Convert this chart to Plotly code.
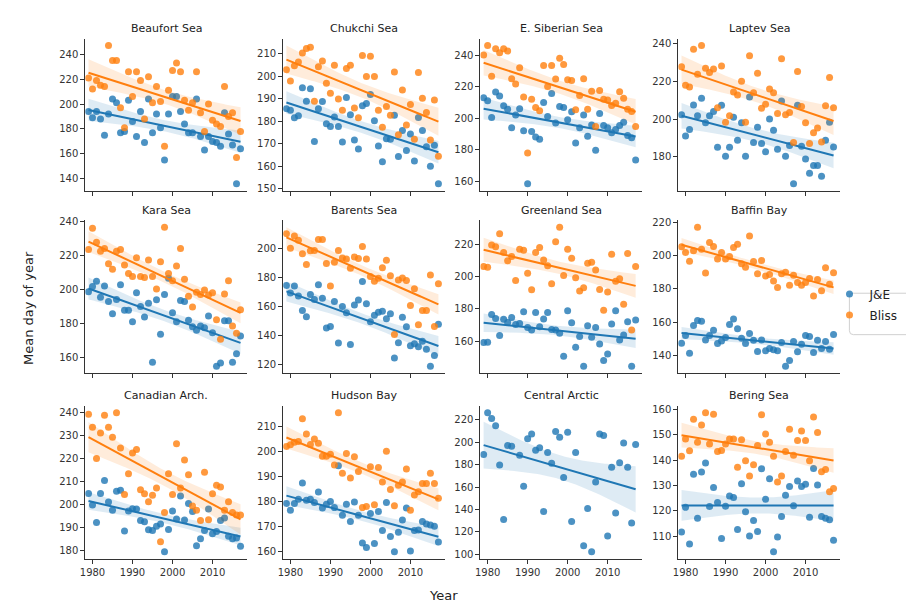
import numpy as np
import plotly.graph_objects as go

years = list(range(1979, 2018))

region_names = ["Beaufort Sea", "Chukchi Sea", "E. Siberian Sea", "Laptev Sea",
                "Kara Sea", "Barents Sea", "Greenland Sea", "Baffin Bay",
                "Canadian Arch.", "Hudson Bay", "Central Arctic", "Bering Sea"]

beaufort_je = [194,189,194,188,175,192,204,201,177,178,203,186,174,194,169,204,177,192,181,155,192,206,206,194,184,177,177,204,174,163,174,170,169,166,193,176,167,136,164]
beaufort_bliss = [221,212,219,215,214,247,235,235,197,181,226,206,226,219,188,222,201,214,202,166,211,227,233,226,203,195,201,226,193,178,200,187,184,182,214,190,193,157,178]
chukchi_je = [185.6,185,181.6,182.5,195,189,194.5,171,185.6,188.8,179,177.7,182,177.7,170.8,190.6,183,171.7,167.7,187,188,192,180.3,169,162,172.3,172,182.7,164.4,175.9,167,174.4,162.4,181.7,175.9,168.7,160,169.4,152.3]
chukchi_bliss = [203,198,204.7,206.4,210.4,212.4,212.9,189,204.3,206.8,197,192.5,205,190,185,203.5,205,186,181.6,209.3,200,209,200,185,177.4,186.6,182.7,202,174,194,178.4,187.5,172,201.7,190.3,184,171.7,189.5,164.5]
esiberian_je = [213,211,200.5,216.5,214,207.8,205.7,194,202,206,192,158.5,191.6,188,186.6,210,201,215.7,197,207.4,206.7,199,204,184.3,194,202,188.6,195.7,179.7,203,195.3,194,190.7,192.8,195.3,197.4,189,187.6,173.5]
esiberian_bliss = [240,246,226.5,244,241.5,244,242.5,225,221.7,232,213.4,178,212,206.7,204.7,233.3,220,233.3,224.8,238,234,224.4,223.8,205.3,214.4,225,205.7,217,194.7,217.5,212,211.5,208,209.4,216.7,212.6,205.7,204.2,194.7]
laptev_je = [202.3,191,194.4,207.5,201.7,211,198,201.7,204,185,207.3,180.3,185,201,188.7,198,180.3,211.7,187.5,195.7,187,182.6,200,194,184,209.6,180.3,186,165.7,207.3,185.6,178.8,171.3,175.3,175.3,169.6,188.7,198.3,185.2]
laptev_bliss = [227.8,218,217,237,223.8,239,227,224.7,226.6,206,228.2,198.3,201.7,214.4,212.7,220,198.3,233.6,214,224.3,205.7,207.8,216,214,203,232,202.3,203.5,187.5,225.2,206.6,198,187,192.7,195.3,187.8,207,222,206]
kara_je = [198.6,201.6,204.7,195.3,202,192.8,185.6,194,202.7,187.6,187.6,180.8,197.9,189.9,183.7,191.8,157,193.8,173.4,196.9,206.6,186.2,180.8,193.4,192.8,181.7,177.9,175.9,178.3,177.3,184.3,174.4,154.6,156.5,181.4,181.4,157,161.9,172.4]
kara_bliss = [223.5,236.1,227.8,222.5,224.1,215.1,211.8,222.5,223.5,214.4,209.3,207.6,218.6,207.6,207,217.3,207.6,200.2,216.3,236.7,209.3,205,213.8,224.1,206,195.9,189.5,198.3,196.9,199.6,196.7,197.9,182.1,170.5,197.3,205,178.4,174,188]
barents_je = [174.7,169.6,174.3,167.4,157.5,153.1,168.5,165.1,175.2,165.8,145.3,146.4,163.6,135,160.2,155.8,133.9,161.3,164.7,177.4,162,149.7,154.2,156.2,156.9,151.7,155.1,124.5,135.2,152.8,146.1,133,134.5,132.3,136.1,130.7,118.9,126.3,147.9]
barents_bliss = [210.5,200.4,208.9,206,196.6,189.3,198.7,198.9,206.5,206.5,189.9,174.3,190.8,198.9,193.7,193.1,186.6,194.4,193.3,201.6,193.1,181,177.7,179.7,187,192.2,181.5,140.8,178.5,179.9,178.1,160.9,172.5,147.5,157.5,157.5,181.9,146.4,175.9]
greenland_je = [159.2,159.4,176.5,174.1,163.5,173.5,171.6,174.7,170.4,171,178.2,168.4,166.9,177.8,169,173.7,177.8,167.3,166.9,164.9,150.6,178.8,171.4,156.3,162.9,144.5,169.6,162.4,168.4,158.2,148,152,170.6,178.8,160.8,163.9,172,144.5,173.1]
greenland_bliss = [206.3,205.7,219.6,218.4,226.5,214.9,209.8,212.4,197.6,216.9,216.3,202,191.8,214.9,218,210.2,206.7,195.5,221.6,230.6,200.6,216.9,211.4,199.2,191,193.1,208.2,208.8,204.1,192,179.2,190.4,213.9,197.1,198.6,182.9,214.3,166.9,206.3]
baffin_je = [147.2,151.9,141.2,157.9,160.9,160.5,149.2,151.9,155.1,147,148.6,150.6,158.5,161.9,155.9,150.2,147,153.1,149,142.2,149.2,142.6,144,143.2,142.6,147.6,133.3,136.7,148.2,142,146.6,151.9,151.2,141.6,149,144,148.2,143.6,152.5]
baffin_bliss = [205.5,202.1,196.8,203.1,217.4,204.1,189.6,208.1,205.7,198.2,202.1,198.2,199.6,205.1,207.1,195.2,193.2,212.1,196.6,189.2,197.2,187.9,188.8,184.9,180.9,189.2,190.2,182.3,188.3,183.9,182.3,183.9,186.3,175.8,185.7,178.9,192.8,182.9,189.8]
canadian_je = [204.7,199.7,192.1,204.7,210.4,201,197.4,205.7,206.1,188.3,197.1,198.1,197.9,192.9,192.4,188.9,188.6,190.4,191.4,179.3,189,197.1,193.6,203.6,193.1,200.3,196.9,181.9,185,188.6,197.9,187.1,188.1,192.9,194,186,185,185.3,181.7]
canadian_bliss = [239.3,233.6,220,231.1,238.9,233.6,229.3,240,224.6,204.3,213.3,222.4,223.9,206.4,204.6,201.1,203.9,207.1,183.6,196.4,213.3,204.3,226.4,207.1,219.3,212.9,199.3,197.4,192.9,214,193.3,204.6,208.3,207.6,197.4,201.1,196.4,195.3,195.3]
hudson_je = [179.2,176.6,179.2,180.9,187.4,180.5,180.9,179.6,183.8,177.4,178.9,180,177.6,194.3,174.6,178.9,172.1,179.8,174.6,163.5,161.7,175.3,163.3,176.1,168.5,179.6,166.1,160,167.8,172.7,177.4,160.3,168.5,168.7,172.1,171.1,170.7,170.2,163.9]
hudson_bliss = [202,202.7,203.7,204,213.1,207,202.8,205,203.3,198.1,198.1,198.9,194.6,215.5,191.3,199.2,189.4,197.9,192,177.6,178,193.9,178.7,193.6,187.8,200.1,184.8,178.3,186.5,187.8,193,176.6,182.6,183.9,187.2,187.2,191.3,187.2,181.3]
central_je = [189,226.4,221.2,214.7,179.7,131,197.2,196.4,None,188.5,160.7,203.1,207.4,192.8,195.2,138.2,190.8,181.2,209.5,204.5,168.6,208.9,129.2,190.8,None,107.6,140.9,102.3,164.5,207.4,206,116.4,177.7,136.8,181.8,199.3,177.7,128,198.1]
central_bliss = [None] * 39
bering_je = [111.7,121.4,106.9,134.4,117.1,135.3,138.9,121.7,129.2,123.3,109.1,121.8,125.9,125.3,112.7,130.7,119.7,110.1,116.2,111.9,136.6,124.6,132.7,103.9,109.7,117.8,126.2,129.6,122,131.8,129.6,130.5,117.5,136.7,130.2,117.8,117.1,116.5,108.4]
bering_bliss = [141.5,148.3,143.7,156.1,147,153.8,158.7,146.4,158.1,143.4,143.8,146.4,148.3,148.3,137.2,148,139.8,133.7,138.2,145.8,157.9,150.3,147,141.5,131.4,133.7,143.4,152.2,141.9,147.7,151.5,147.7,139.8,157,150.9,135.4,136.3,127.5,128.8]

x_tick_values = [1980, 1990, 2000, 2010]
y_tick_steps = [20, 10, 20, 20, 20, 20, 20, 20, 10, 10, 20, 10]

je_series = [beaufort_je, chukchi_je, esiberian_je, laptev_je, kara_je, barents_je,
             greenland_je, baffin_je, canadian_je, hudson_je, central_je, bering_je]
bliss_series = [beaufort_bliss, chukchi_bliss, esiberian_bliss, laptev_bliss, kara_bliss,
                barents_bliss, greenland_bliss, baffin_bliss, canadian_bliss, hudson_bliss,
                central_bliss, bering_bliss]

BLUE = "#1f77b4"
ORANGE = "#ff7f0e"
FONT = "DejaVu Sans"
W, H = 914, 604

col_px = [(72.7, 235.2), (271.7, 434.2), (470.0, 632.5), (669.0, 831.5)]
row_px = [(27, 181), (211, 366), (399, 554)]
xlim = [1978.2, 2018.6]


def fit_band(xv, yv):
    pts = [(a, b) for a, b in zip(xv, yv) if b is not None]
    x = np.array([p[0] for p in pts], float)
    y = np.array([p[1] for p in pts], float)
    n = len(x)
    slope, intercept = np.polyfit(x, y, 1)
    resid = y - (slope * x + intercept)
    s = np.sqrt(np.sum(resid ** 2) / (n - 2))
    xm = x.mean()
    sxx = np.sum((x - xm) ** 2)
    xs = np.linspace(x.min(), x.max(), 100)
    yhat = slope * xs + intercept
    se = s * np.sqrt(1.0 / n + (xs - xm) ** 2 / sxx)
    t = 2.03
    return xs, yhat, yhat - t * se, yhat + t * se


def rgba(hexc, a):
    h = hexc.lstrip("#")
    return "rgba(%d,%d,%d,%.3f)" % (int(h[0:2], 16), int(h[2:4], 16), int(h[4:6], 16), a)


fig = go.Figure()
annotations = []
layout_axes = {}

for i, name in enumerate(region_names):
    r, c = divmod(i, 4)
    k = "" if i == 0 else str(i + 1)
    xa, ya = "x" + k, "y" + k
    allvals = []
    for series, color, label in [(je_series[i], BLUE, "J&E"), (bliss_series[i], ORANGE, "Bliss")]:
        vals = [v for v in series if v is not None]
        if not vals:
            continue
        fig.add_trace(go.Scatter(
            x=years, y=series, mode="markers", xaxis=xa, yaxis=ya,
            marker=dict(color=color, size=7, opacity=0.8, line=dict(width=0)),
            name=label, legendgroup=label, showlegend=(i == 0)))
        xs, yhat, lo, hi = fit_band(years, series)
        fig.add_trace(go.Scatter(
            x=list(xs) + list(xs[::-1]), y=list(hi) + list(lo[::-1]),
            fill="toself", fillcolor=rgba(color, 0.15), line=dict(width=0),
            mode="lines", xaxis=xa, yaxis=ya, hoverinfo="skip", showlegend=False))
        fig.add_trace(go.Scatter(
            x=xs, y=yhat, mode="lines", line=dict(color=color, width=2),
            xaxis=xa, yaxis=ya, hoverinfo="skip", showlegend=False))
        allvals += vals + list(lo) + list(hi)
    vmin, vmax = min(allvals), max(allvals)
    pad = 0.05 * (vmax - vmin)
    x0, x1 = col_px[c]
    y0, y1 = row_px[r]
    common = dict(showline=True, linecolor="#333", linewidth=1, ticks="outside",
                  ticklen=4, tickwidth=1, tickcolor="#333", showgrid=False,
                  zeroline=False, tickfont=dict(family=FONT, size=10, color="#333"))
    layout_axes["xaxis" + k] = dict(
        domain=[x0 / W, x1 / W], range=xlim, anchor=ya, tickvals=x_tick_values,
        showticklabels=(r == 2), **common)
    layout_axes["yaxis" + k] = dict(
        domain=[1 - y1 / H, 1 - y0 / H], range=[vmin - pad, vmax + pad], anchor=xa,
        dtick=y_tick_steps[i], **common)
    annotations.append(dict(
        text=name, x=(x0 + x1) / 2 / W, y=1 - (y0 - 10) / H, xref="paper", yref="paper",
        showarrow=False, xanchor="center", yanchor="middle",
        font=dict(family=FONT, size=11, color="#222")))

annotations.append(dict(text="Year", x=433 / W, y=1 - 591 / H, xref="paper", yref="paper",
                        showarrow=False, xanchor="center", yanchor="middle",
                        font=dict(family=FONT, size=13, color="#222")))
annotations.append(dict(text="Mean day of year", x=15 / W, y=1 - 300 / H, xref="paper",
                        yref="paper", showarrow=False, textangle=-90, xanchor="center",
                        yanchor="middle", font=dict(family=FONT, size=13, color="#222")))

# rounded legend frame (partly outside the page on the right, as in the reference)
bx0, by0, bx1, by1, rr = 841, 285, 930, 327, 4


def px(x):
    return x / W


def py(y):
    return 1 - y / H


frame_path = ("M %f,%f L %f,%f L %f,%f L %f,%f Q %f,%f %f,%f L %f,%f Q %f,%f %f,%f Z" % (
    px(bx1), py(by0), px(bx0 + rr), py(by0),
    px(bx0 + rr), py(by0), px(bx0 + rr), py(by0),
    px(bx0), py(by0), px(bx0), py(by0 + rr),
    px(bx0), py(by1 - rr),
    px(bx0), py(by1), px(bx0 + rr), py(by1))) + " L %f,%f Z" % (px(bx1), py(by1))
frame_path = "M %f,%f L %f,%f Q %f,%f %f,%f L %f,%f Q %f,%f %f,%f L %f,%f" % (
    px(bx1), py(by0), px(bx0 + rr), py(by0),
    px(bx0), py(by0), px(bx0), py(by0 + rr),
    px(bx0), py(by1 - rr),
    px(bx0), py(by1), px(bx0 + rr), py(by1),
    px(bx1), py(by1))

fig.update_layout(
    width=W, height=H, margin=dict(l=0, r=0, t=0, b=0),
    paper_bgcolor="white", plot_bgcolor="white",
    annotations=annotations,
    shapes=[dict(type="path", path=frame_path, xref="paper", yref="paper",
                 line=dict(color="#d0d0d0", width=1), fillcolor="rgba(0,0,0,0)")],
    legend=dict(x=821 / W, y=1 - 271 / H, xanchor="left", yanchor="top",
                borderwidth=0, bgcolor="rgba(0,0,0,0)",
                font=dict(family=FONT, size=12, color="#222"),
                itemwidth=30, tracegroupgap=2),
    **layout_axes)

fig.write_html("out.html")
